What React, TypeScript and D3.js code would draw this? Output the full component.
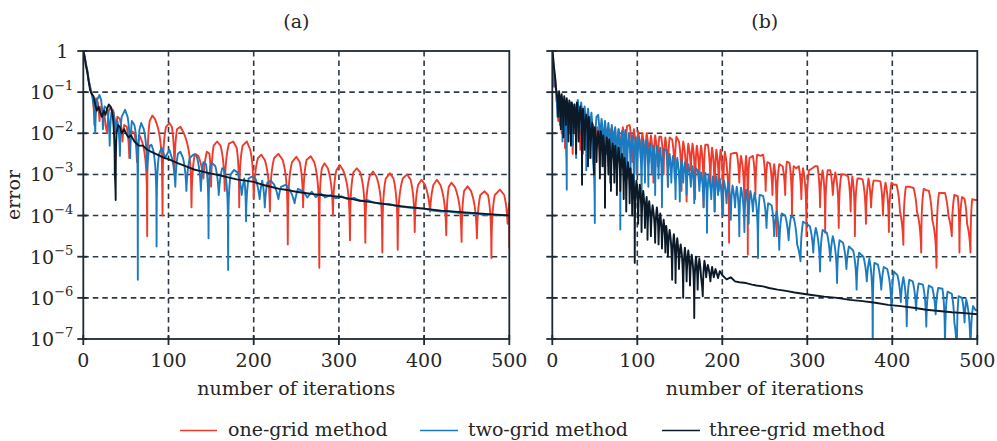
import React from 'react';
import * as d3 from 'd3';

// ---------- data (iteration, log10(error)) ----------
const ITER_TICKS = [0, 100, 200, 300, 400, 500];
const ERR_EXPONENTS = [0, -1, -2, -3, -4, -5, -6, -7];
const GRID_ITERS = [100, 200, 300, 400];
const GRID_EXPONENTS = [-1, -2, -3, -4, -5, -6];
const LEGEND_LABELS = ['one-grid method', 'two-grid method', 'three-grid method'];
const PANEL_TITLES = ['(a)', '(b)'];

const oneGridA: [number, number][] = [[0,0],[3,-0.35],[6,-0.7],[9,-0.95],[11,-1.1],[13,-1.8],[15,-1.15],[17,-1.25],[19,-1.7],[21,-1.35],[24,-1.45],[26,-1.8],[28,-2.0],[30,-1.45],[32,-1.36],[35,-1.45],[38,-1.95],[40,-1.6],[43,-1.65],[46,-2.2],[48,-1.8],[51,-1.84],[54,-2.6],[57,-1.95],[60,-2.0],[63,-2.7],[66,-2.05],[69,-2.2],[75,-4.5],[78,-1.7],[81,-1.57],[84,-1.65],[93,-4.0],[97,-1.85],[101,-1.75],[104,-1.85],[107,-3.0],[110,-1.9],[114,-1.84],[118,-2.0],[127,-3.8],[131,-2.5],[135,-2.55],[141,-3.1],[145,-2.45],[148,-2.5],[150,-3.3],[153,-2.3],[157,-2.2],[161,-2.3],[166,-3.4],[171,-2.25],[176,-2.2],[180,-2.35],[183,-3.8],[187,-2.3],[192,-2.2],[196,-2.4],[200,-3.6],[205,-2.6],[209,-2.52],[213,-2.65],[219,-3.9],[224,-2.6],[229,-2.5],[234,-2.65],[240,-4.7],[245,-2.7],[250,-2.57],[254,-2.7],[258,-3.8],[262,-2.65],[267,-2.56],[271,-2.7],[277,-5.27],[280,-2.85],[283,-2.73],[287,-2.85],[293,-4.0],[297,-2.9],[301,-2.77],[305,-2.9],[313,-4.6],[317,-2.95],[321,-2.85],[325,-2.95],[331,-4.66],[336,-3.05],[340,-2.93],[344,-3.05],[351,-4.9],[355,-3.1],[360,-2.97],[364,-3.1],[369,-4.83],[375,-3.1],[380,-3.0],[384,-3.12],[389,-4.4],[393,-3.25],[397,-3.13],[401,-3.25],[407,-3.9],[411,-3.25],[415,-3.13],[419,-3.25],[426,-4.48],[429,-3.3],[432,-3.2],[436,-3.3],[444,-4.64],[447,-3.4],[451,-3.29],[455,-3.4],[462,-4.55],[466,-3.5],[471,-3.41],[475,-3.5],[479,-5.03],[483,-3.5],[489,-3.37],[494,-3.5],[498,-4.2],[500,-3.7],[500,-4.78]];

const twoGridA: [number, number][] = [[0,0],[3,-0.3],[6,-0.65],[8,-0.9],[10,-1.05],[12,-1.3],[14,-2.0],[16,-1.2],[19,-1.07],[21,-1.2],[23,-1.9],[25,-1.35],[28,-1.4],[31,-2.3],[33,-1.5],[35,-1.45],[38,-2.0],[40,-1.7],[43,-2.55],[45,-1.6],[49,-1.43],[52,-1.6],[55,-2.6],[57,-1.7],[60,-1.8],[64,-5.56],[66,-1.9],[68,-1.75],[71,-1.9],[75,-2.9],[78,-2.3],[80,-2.28],[82,-2.4],[86,-4.75],[89,-2.5],[92,-2.35],[96,-2.6],[101,-2.4],[104,-2.6],[108,-3.3],[111,-2.5],[114,-2.45],[117,-2.6],[121,-3.4],[125,-2.6],[129,-2.52],[133,-2.55],[138,-3.4],[141,-2.7],[144,-2.75],[147,-4.55],[149,-2.8],[151,-2.72],[155,-2.8],[159,-3.5],[163,-2.85],[166,-2.9],[170,-5.32],[173,-3.0],[177,-2.89],[181,-2.95],[186,-3.5],[189,-3.1],[191,-4.14],[194,-3.1],[198,-3.05],[202,-3.1],[207,-3.6],[210,-3.15],[213,-3.8],[216,-3.2],[220,-3.15],[224,-3.25],[229,-3.6],[232,-3.3],[238,-3.25],[243,-3.4],[248,-3.7],[252,-3.35],[258,-3.41],[263,-3.56],[268,-3.42],[273,-3.55],[278,-3.45],[284,-3.56],[290,-3.5],[296,-3.58],[303,-3.53],[310,-3.6],[318,-3.57],[325,-3.65],[333,-3.62],[340,-3.68],[350,-3.72],[360,-3.72],[370,-3.78],[380,-3.8],[390,-3.82],[400,-3.83],[410,-3.88],[420,-3.9],[430,-3.9],[440,-3.93],[450,-3.95],[460,-3.95],[470,-3.98],[480,-3.98],[490,-4.0]];

const threeGridA: [number, number][] = [[0,0],[3,-0.35],[6,-0.7],[8,-0.95],[10,-1.05],[12,-1.1],[14,-1.3],[16,-1.45],[18,-1.35],[20,-1.5],[22,-1.6],[24,-1.45],[26,-1.55],[28,-1.4],[30,-1.3],[32,-1.35],[34,-1.5],[36,-2.0],[37,-3.0],[38,-3.62],[39,-2.0],[41,-1.8],[43,-1.85],[45,-2.0],[48,-1.9],[50,-2.0],[53,-2.1],[56,-2.05],[60,-2.2],[65,-2.3],[70,-2.3],[75,-2.4],[80,-2.45],[85,-2.5],[90,-2.55],[95,-2.6],[100,-2.63],[110,-2.72],[120,-2.8],[130,-2.88],[140,-2.93],[150,-2.98],[160,-3.02],[170,-3.07],[180,-3.12],[190,-3.15],[200,-3.18],[210,-3.25],[220,-3.3],[230,-3.35],[240,-3.38],[250,-3.42],[260,-3.45],[270,-3.48],[280,-3.5],[290,-3.52],[300,-3.54],[320,-3.62],[340,-3.68],[360,-3.74],[380,-3.79],[400,-3.83],[420,-3.88],[440,-3.91],[460,-3.94],[480,-3.97],[500,-4.0]];

const oneGridB: [number, number][] = [[0,0],[1,-0.3],[2,-0.87],[3,-0.6],[5,-1.2],[7,-1.7],[9,-1.3],[11,-2.0],[13,-1.45],[15,-2.36],[17,-1.5],[19,-2.0],[21,-1.55],[24,-2.5],[26,-1.6],[28,-2.2],[30,-1.65],[33,-2.4],[35,-1.7],[38,-2.3],[40,-1.75],[43,-2.6],[45,-1.8],[48,-1.8],[51,-2.5],[53,-1.85],[56,-2.7],[58,-1.85],[61,-2.4],[63,-1.9],[66,-2.8],[68,-1.9],[71,-2.5],[73,-1.95],[76,-2.9],[78,-1.9],[81,-2.6],[83,-1.85],[86,-2.8],[88,-1.82],[91,-1.8],[94,-2.7],[96,-1.9],[99,-3.0],[101,-1.95],[104,-2.6],[106,-2.0],[109,-3.1],[111,-2.0],[114,-2.7],[116,-2.05],[119,-3.2],[121,-2.05],[124,-2.8],[126,-2.08],[128,-2.08],[131,-3.0],[133,-2.1],[136,-3.3],[138,-2.1],[141,-2.15],[144,-3.1],[146,-2.08],[149,-2.2],[152,-3.4],[154,-2.2],[158,-3.66],[160,-2.25],[163,-2.9],[165,-2.25],[168,-3.6],[170,-2.3],[173,-3.2],[175,-2.3],[178,-3.8],[180,-2.28],[183,-2.28],[186,-3.3],[188,-2.35],[191,-3.9],[193,-2.4],[196,-3.4],[198,-2.4],[201,-4.0],[203,-2.45],[206,-3.0],[208,-4.66],[210,-2.5],[214,-2.48],[217,-2.48],[220,-3.2],[222,-2.55],[226,-3.8],[228,-2.55],[230,-4.95],[232,-2.6],[236,-2.55],[239,-3.5],[241,-2.52],[245,-2.55],[248,-2.52],[251,-3.4],[253,-2.7],[256,-2.73],[259,-3.5],[261,-2.75],[264,-4.5],[267,-2.75],[271,-2.8],[274,-3.5],[276,-2.69],[279,-2.72],[282,-4.0],[284,-2.8],[287,-2.85],[290,-2.8],[293,-3.6],[295,-2.85],[299,-4.5],[302,-2.9],[306,-2.85],[309,-2.8],[312,-2.8],[315,-3.8],[318,-2.9],[321,-4.42],[324,-2.9],[327,-2.9],[330,-3.5],[333,-2.95],[337,-4.3],[340,-3.0],[344,-3.0],[348,-3.05],[351,-3.9],[353,-3.05],[356,-4.5],[359,-3.1],[362,-3.1],[365,-3.12],[369,-4.2],[372,-3.1],[375,-3.8],[378,-3.15],[382,-3.15],[386,-3.17],[389,-4.0],[392,-3.2],[396,-4.4],[399,-3.2],[402,-3.25],[405,-3.25],[409,-3.9],[413,-4.71],[416,-3.3],[421,-3.3],[425,-3.33],[429,-3.9],[434,-4.9],[437,-3.35],[440,-3.38],[443,-3.4],[447,-4.1],[452,-5.27],[455,-3.45],[459,-3.45],[462,-3.45],[466,-4.0],[470,-4.5],[473,-3.5],[477,-3.53],[479,-4.9],[482,-3.55],[485,-3.6],[488,-4.2],[492,-4.9],[494,-3.6],[497,-3.62],[500,-3.62]];

const twoGridB: [number, number][] = [[0,0],[1,-0.46],[2,-0.6],[4,-0.9],[6,-1.6],[7,-1.05],[9,-1.8],[10,-1.1],[12,-2.2],[13,-1.2],[15,-2.0],[17,-3.37],[18,-1.3],[20,-2.0],[22,-1.25],[24,-2.3],[26,-1.3],[28,-2.6],[30,-1.19],[32,-2.0],[34,-1.25],[36,-2.5],[38,-1.35],[40,-2.9],[42,-1.4],[44,-2.2],[46,-1.5],[48,-2.7],[50,-4.18],[52,-1.6],[54,-1.55],[56,-2.4],[58,-1.65],[60,-2.8],[62,-1.7],[64,-2.5],[66,-1.75],[68,-3.2],[70,-1.8],[72,-2.6],[74,-1.85],[76,-3.0],[78,-1.9],[80,-4.34],[82,-1.95],[84,-2.8],[86,-1.92],[88,-3.1],[90,-2.0],[92,-2.9],[94,-2.05],[96,-3.4],[98,-2.1],[100,-3.0],[102,-2.1],[105,-3.6],[107,-2.15],[109,-3.2],[111,-2.16],[113,-3.3],[115,-2.25],[117,-3.0],[119,-2.3],[121,-3.5],[123,-2.3],[125,-3.1],[127,-2.35],[129,-3.8],[131,-2.4],[134,-2.4],[136,-3.3],[138,-2.5],[140,-3.2],[142,-2.55],[145,-3.6],[147,-2.6],[150,-3.66],[152,-2.65],[154,-3.2],[156,-2.7],[158,-3.5],[160,-2.75],[163,-3.3],[165,-2.8],[167,-3.7],[169,-2.85],[171,-2.9],[173,-3.4],[175,-2.95],[178,-3.8],[180,-2.96],[182,-4.42],[184,-3.0],[187,-3.6],[189,-3.05],[191,-3.9],[193,-3.05],[195,-3.5],[197,-3.1],[200,-4.0],[202,-3.15],[205,-3.7],[207,-3.2],[210,-4.1],[212,-3.27],[215,-3.8],[217,-3.3],[220,-4.5],[222,-3.32],[226,-4.4],[228,-3.37],[231,-4.2],[233,-3.4],[236,-3.9],[238,-3.45],[242,-5.03],[244,-3.5],[248,-3.52],[252,-4.3],[254,-3.7],[258,-3.75],[261,-4.5],[264,-3.9],[267,-4.83],[270,-3.95],[274,-4.0],[278,-4.6],[281,-4.02],[284,-4.05],[288,-4.7],[292,-5.11],[295,-4.15],[299,-4.2],[303,-4.26],[307,-4.9],[310,-4.3],[315,-5.36],[318,-4.35],[323,-4.42],[327,-5.1],[330,-4.5],[335,-5.64],[338,-4.6],[342,-4.66],[346,-5.3],[349,-4.75],[354,-4.85],[358,-5.8],[361,-4.9],[366,-5.0],[370,-5.6],[373,-5.05],[377,-7.5],[379,-5.15],[383,-5.19],[387,-5.8],[390,-5.25],[394,-5.3],[399,-6.29],[402,-5.36],[406,-5.45],[410,-6.1],[413,-5.5],[417,-6.69],[420,-5.56],[424,-5.6],[428,-6.3],[431,-5.65],[436,-5.68],[440,-6.7],[443,-5.7],[447,-5.75],[451,-6.4],[454,-5.76],[459,-5.78],[462,-7.5],[465,-5.85],[470,-5.9],[473,-6.6],[476,-7.5],[478,-5.96],[482,-6.0],[485,-6.6],[487,-6.04],[492,-7.5],[495,-6.2],[498,-6.3],[500,-6.3]];

const threeGridB: [number, number][] = [[0,0],[2,-0.4],[4,-0.85],[5,-1.0],[7,-1.6],[8,-0.98],[10,-1.9],[11,-1.05],[13,-2.1],[14,-1.1],[16,-1.8],[17,-1.15],[19,-2.2],[20,-1.2],[22,-2.3],[23,-1.25],[25,-2.0],[26,-1.3],[28,-2.5],[29,-1.25],[31,-2.2],[33,-1.35],[35,-3.25],[36,-1.4],[38,-2.4],[40,-1.55],[42,-2.8],[43,-1.6],[45,-2.6],[47,-1.75],[49,-3.0],[50,-1.85],[52,-2.7],[54,-1.95],[56,-3.1],[57,-1.95],[59,-2.8],[60,-2.05],[62,-3.81],[64,-2.1],[66,-3.0],[67,-2.15],[69,-3.4],[71,-2.25],[73,-3.2],[74,-2.3],[76,-3.5],[78,-2.35],[80,-3.4],[82,-2.5],[84,-3.6],[85,-2.6],[87,-3.9],[89,-2.7],[91,-3.7],[92,-2.85],[94,-4.0],[95,-3.0],[97,-5.15],[99,-3.15],[101,-4.2],[103,-3.25],[105,-4.4],[107,-3.4],[109,-4.3],[111,-3.55],[112,-4.59],[114,-3.65],[116,-4.5],[118,-3.75],[121,-4.66],[123,-3.8],[125,-4.7],[127,-3.95],[129,-4.8],[131,-4.1],[133,-4.9],[134,-4.25],[136,-5.0],[138,-4.35],[141,-5.56],[143,-4.45],[145,-5.64],[147,-4.55],[149,-5.3],[151,-4.7],[154,-6.0],[156,-4.78],[158,-5.6],[160,-4.85],[162,-5.7],[164,-4.95],[167,-6.49],[169,-5.0],[171,-5.8],[173,-5.05],[175,-5.5],[177,-5.96],[179,-5.1],[181,-5.5],[183,-5.2],[186,-5.6],[188,-5.25],[190,-5.5],[192,-5.3],[195,-5.52],[197,-5.35],[200,-5.45],[205,-5.55],[210,-5.5],[215,-5.6],[220,-5.62],[228,-5.64],[235,-5.68],[240,-5.7],[248,-5.72],[255,-5.76],[265,-5.8],[275,-5.83],[285,-5.87],[295,-5.9],[305,-5.93],[320,-5.97],[335,-6.0],[350,-6.05],[365,-6.08],[380,-6.12],[395,-6.17],[410,-6.2],[425,-6.24],[440,-6.29],[455,-6.32],[470,-6.35],[485,-6.37],[500,-6.4]];

// ---------- styling / layout ----------
const COLORS = ['#ef3b2c', '#1b7bc0', '#0c1a28'];
const AXIS_COLOR = '#1d2a35';
const GRID_COLOR = '#2c3944';
const FONT = "'DejaVu Serif', 'Liberation Serif', serif";
const W = 997, H = 441;
const TOP = 51, BOTTOM = 339;

const PANELS = [
  { left: 83.3, right: 509.3, series: [oneGridA, twoGridA, threeGridA], showYLabels: true },
  { left: 552.3, right: 977.3, series: [oneGridB, twoGridB, threeGridB], showYLabels: false },
];

function seriesPath(pts: [number, number][], x: d3.ScaleLinear<number, number>, y: d3.ScaleLogarithmic<number, number>) {
  const p = d3.path();
  pts.forEach(([it, lg], k) => {
    if (k === 0) { p.moveTo(x(it), y(Math.pow(10, lg))); return; }
    const [it0, lg0] = pts[k - 1];
    const a = Math.pow(10, lg0), b = Math.pow(10, lg);
    const n = Math.abs(lg - lg0) > 0.25 ? 14 : 1;
    for (let s = 1; s <= n; s++) {
      const t = s / n;
      p.lineTo(x(it0 + (it - it0) * t), y(a + (b - a) * t));
    }
  });
  return p.toString();
}

const txt = { fontFamily: FONT, fill: '#262626' } as const;

function Panel({ idx }: { idx: number }) {
  const cfg = PANELS[idx];
  const x = d3.scaleLinear().domain([0, 500]).range([cfg.left, cfg.right]);
  const y = d3.scaleLog().domain([1, 1e-7]).range([TOP, BOTTOM]);
  const clipId = `clip-${idx}`;
  const cx = (cfg.left + cfg.right) / 2;
  return (
    <g>
      <defs>
        <clipPath id={clipId}>
          <rect x={cfg.left} y={TOP - 1} width={cfg.right - cfg.left} height={BOTTOM - TOP + 1} />
        </clipPath>
      </defs>
      <text x={cx} y={28} textAnchor="middle" fontSize={19} style={txt}>{PANEL_TITLES[idx]}</text>
      {GRID_EXPONENTS.map(e => (
        <line key={'gy' + e} x1={cfg.left} x2={cfg.right} y1={y(Math.pow(10, e))} y2={y(Math.pow(10, e))}
          stroke={GRID_COLOR} strokeWidth={1.6} strokeDasharray="5.5,4" />
      ))}
      {GRID_ITERS.map(v => (
        <line key={'gx' + v} x1={x(v)} x2={x(v)} y1={TOP} y2={BOTTOM}
          stroke={GRID_COLOR} strokeWidth={1.6} strokeDasharray="5.5,4" />
      ))}
      <g clipPath={`url(#${clipId})`}>
        {cfg.series.map((s, k) => (
          <path key={k} d={seriesPath(s, x, y)} fill="none" stroke={COLORS[k]} strokeWidth={1.9} strokeLinejoin="round" />
        ))}
      </g>
      <rect x={cfg.left} y={TOP} width={cfg.right - cfg.left} height={BOTTOM - TOP} fill="none" stroke={AXIS_COLOR} strokeWidth={1.8} />
      {ERR_EXPONENTS.map(e => (
        <line key={'ty' + e} x1={cfg.left - 6} x2={cfg.left + 4} y1={y(Math.pow(10, e))} y2={y(Math.pow(10, e))} stroke={AXIS_COLOR} strokeWidth={1.8} />
      ))}
      {ITER_TICKS.map(v => (
        <line key={'tx' + v} x1={x(v)} x2={x(v)} y1={BOTTOM - 4} y2={BOTTOM + 6} stroke={AXIS_COLOR} strokeWidth={1.8} />
      ))}
      {ITER_TICKS.map(v => (
        <text key={'lx' + v} x={x(v)} y={367} textAnchor="middle" fontSize={19} style={txt}>{v}</text>
      ))}
      {cfg.showYLabels && ERR_EXPONENTS.map(e => (
        e === 0 ? (
          <text key={'ly' + e} x={cfg.left - 15} y={y(1) + 7} textAnchor="end" fontSize={19} style={txt}>1</text>
        ) : (
          <text key={'ly' + e} x={cfg.left - 10} y={y(Math.pow(10, e)) + 7} textAnchor="end" fontSize={19} style={txt}>
            10<tspan dy={-9} fontSize={13}>{'\u2212' + Math.abs(e)}</tspan>
          </text>
        )
      ))}
      <text x={cx} y={395} textAnchor="middle" fontSize={19} style={txt}>number of iterations</text>
    </g>
  );
}

export default function App() {
  const legendItems = [
    { x1: 180, x2: 217, tx: 228 },
    { x1: 420, x2: 458, tx: 468 },
    { x1: 662, x2: 700, tx: 709 },
  ];
  return (
    <svg width={W} height={H} style={{ position: 'absolute', left: 0, top: 0, background: '#fff' }}>
      <rect x={0} y={0} width={W} height={H} fill="#fff" />
      <text transform={`translate(20,195) rotate(-90)`} textAnchor="middle" fontSize={19} style={txt}>error</text>
      <Panel idx={0} />
      <Panel idx={1} />
      {legendItems.map((it, k) => (
        <g key={k}>
          <line x1={it.x1} x2={it.x2} y1={430.5} y2={430.5} stroke={COLORS[k]} strokeWidth={1.6} />
          <text x={it.tx} y={436} fontSize={19} style={txt}>{LEGEND_LABELS[k]}</text>
        </g>
      ))}
    </svg>
  );
}
